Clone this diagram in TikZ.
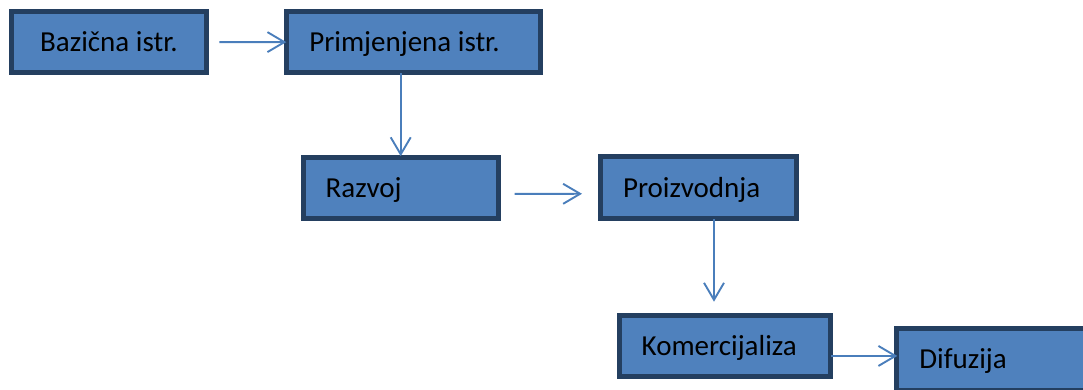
\documentclass[tikz,border=0pt]{standalone}
\usepackage{fontspec}
\setmainfont{Carlito}
\usetikzlibrary{arrows.meta}

\definecolor{boxfill}{HTML}{4F81BD}
\definecolor{boxline}{HTML}{243F60}
\definecolor{arrowblue}{HTML}{4A7EBB}

\begin{document}
\begin{tikzpicture}[x=1pt,y=-1pt,>={Straight Barb[length=17pt,width=20pt]},
  flow/.style={->,draw=arrowblue,line width=1.9pt},
  stage/.style={draw=boxline,fill=boxfill,line width=5pt,anchor=north west,
    minimum height=61.5pt,inner xsep=22.5pt,inner ysep=0pt,text height=19pt,
    text depth=0pt,align=flush left,font=\fontsize{29}{35}\selectfont}]

  \useasboundingbox (0,0) rectangle (1083,390);

  \node[stage,align=flush center,text width=150.6pt] (bazicna) at (8.7,8.7) {Bazična istr.};
  \node[stage,text width=209pt] (primjenjena) at (284.3,9) {Primjenjena istr.};
  \node[stage,text width=150pt] (razvoj) at (300.7,154.7) {Razvoj};
  \node[stage,text width=151pt] (proizvodnja) at (598,154.5) {Proizvodnja};
  \node[stage,text width=166.3pt] (komercijaliza) at (616.7,312.7) {Komercijaliza};
  \node[stage,text width=155pt] (difuzija) at (894.3,326) {Difuzija};

  \coordinate (p) at ([xshift=15.5pt]proizvodnja.south);
  \coordinate (k) at ([yshift=-10pt]komercijaliza.east);

  \draw[flow,shorten <=10pt,shorten >=-2pt] (bazicna) -- (primjenjena);
  \draw[flow,shorten <=-2pt,shorten >=-1.5pt] (razvoj.north |- primjenjena.south) -- (razvoj.north);
  \draw[flow,shorten <=14pt,shorten >=16pt] ([yshift=-6pt]razvoj.east) -- ([yshift=-6pt]proizvodnja.west);
  \draw[flow,shorten <=-2pt,shorten >=11pt] (p) -- (p |- komercijaliza.north);
  \draw[flow,shorten <=-2pt,shorten >=-3pt] (k) -- (k -| difuzija.west);
\end{tikzpicture}
\end{document}
